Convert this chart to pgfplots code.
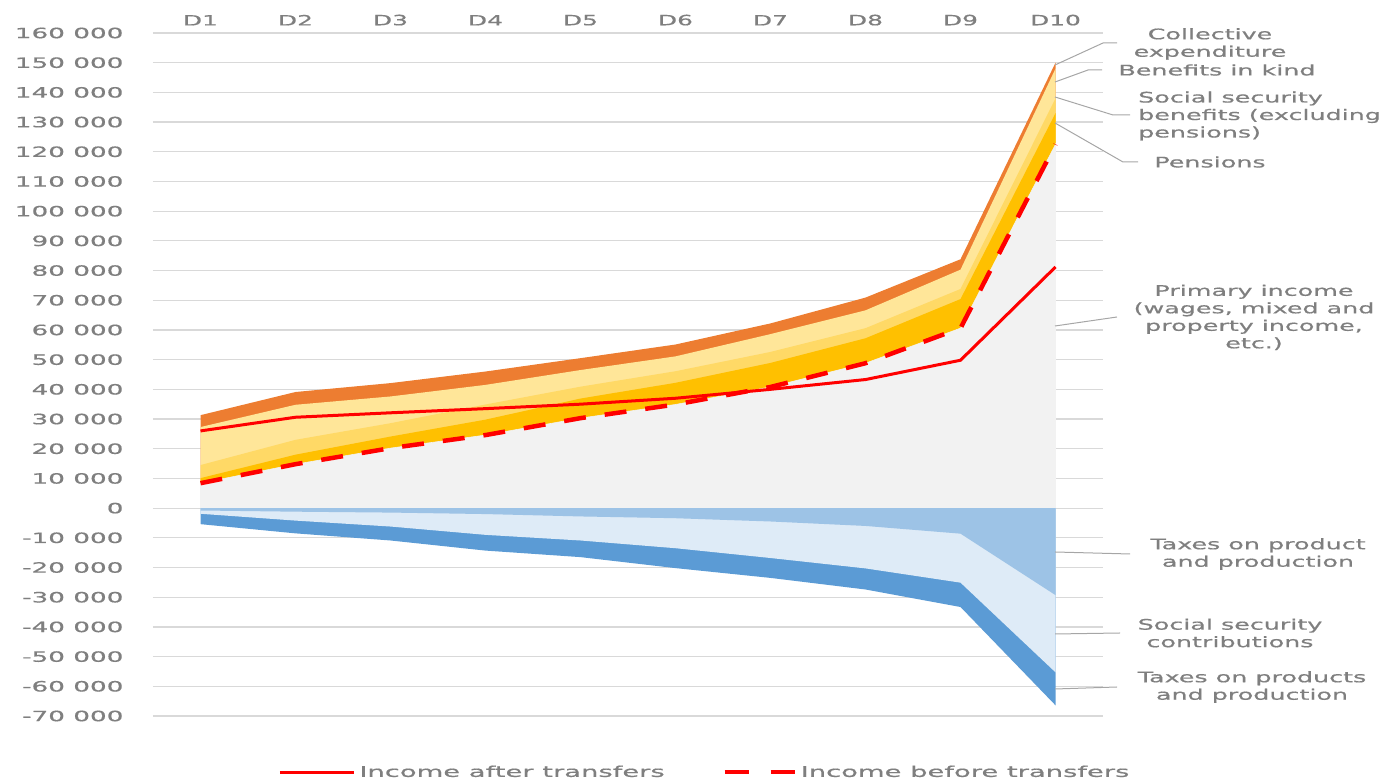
\documentclass[border=0pt]{standalone}
\usepackage{fontspec}
\setmainfont{DejaVu Sans}[FakeStretch=1.75, FakeBold=0.6]
\newfontfamily\tickfont{DejaVu Sans}[FakeStretch=1.85, FakeBold=0.6]
\usepackage{pgfplots}
\pgfplotsset{compat=1.18}
\usepackage{pgfplotstable}

\definecolor{txtgray}{HTML}{7F7F7F}
\definecolor{gridgray}{HTML}{D9D9D9}
\definecolor{leadgray}{HTML}{A6A6A6}
\definecolor{cPrim}{HTML}{F2F2F2}
\definecolor{cPens}{HTML}{FFC000}
\definecolor{cSsb}{HTML}{FFD966}
\definecolor{cKind}{HTML}{FFE699}
\definecolor{cColl}{HTML}{ED7D31}
\definecolor{cTprod}{HTML}{9DC3E6}
\definecolor{cSsc}{HTML}{DEEBF7}
\definecolor{cTprods}{HTML}{5B9BD5}

\pgfplotstableread{
x  prim   pens  ssb  kind  coll tprod  ssc    tprods after
1  8400   1700  4400 12800 4000 -800   -1100  -3500  26000
2  14800  3200  5000 11800 4300 -1200  -3000  -4300  30600
3  20200  3900  4500 9000  4500 -1500  -4700  -4700  32100
4  24600  5200  5100 6600  4500 -2000  -7000  -5300  33500
5  30300  6600  4000 5600  4000 -2800  -8100  -5600  35000
6  34900  7300  3900 5000  4000 -3400  -10100 -6700  37000
7  40800  8100  3700 6000  3600 -4500  -12300 -6700  40000
8  48800  8400  3400 6000  4300 -6000  -14300 -7100  43300
9  60600  9800  3400 6500  3500 -8600  -16500 -8200  49800
10 122500 10500 5000 10000 2000 -29300 -26000 -11100 81200
}\data

\def\pxfont{\fontsize{14.2}{17.5}\selectfont}

\begin{document}
\begin{tikzpicture}
\useasboundingbox (0,0) rectangle (1384pt,778pt);
\begin{axis}[
  at={(153pt,62pt)}, anchor=south west,
  scale only axis, width=950pt, height=683pt,
  xmin=0.5, xmax=10.5, ymin=-70000, ymax=160000,
  scaled y ticks=false,
  xtick={1,...,10}, xticklabels={D1,D2,D3,D4,D5,D6,D7,D8,D9,D10},
  xticklabel pos=upper,
  ytick={-70000,-60000,-50000,-40000,-30000,-20000,-10000,0,10000,20000,30000,40000,50000,60000,70000,80000,90000,100000,110000,120000,130000,140000,150000,160000},
  yticklabels={-70 000,-60 000,-50 000,-40 000,-30 000,-20 000,-10 000,0,10 000,20 000,30 000,40 000,50 000,60 000,70 000,80 000,90 000,100 000,110 000,120 000,130 000,140 000,150 000,160 000},
  ymajorgrids, grid style={color=gridgray, line width=1.2pt},
  axis line style={draw=none}, major tick length=0pt,
  tick label style={font=\pxfont, text=txtgray},
  yticklabel style={font=\tickfont\pxfont, anchor=east, xshift=-26pt},
  xticklabel style={anchor=south, yshift=4pt},
  legend columns=2,
  legend style={at={(0.582,-0.082)}, anchor=center, draw=none, fill=none,
    font=\tickfont\fontsize{14.8}{18}\selectfont, text=txtgray,
    nodes={inner sep=4pt},
    /tikz/every even column/.append style={column sep=54pt}},
]
% positive stack (painter's order)
\addplot[fill=cColl, draw=none, forget plot] table[x=x, y expr=\thisrow{prim}+\thisrow{pens}+\thisrow{ssb}+\thisrow{kind}+\thisrow{coll}] {\data} \closedcycle;
\addplot[fill=cKind, draw=none, forget plot] table[x=x, y expr=\thisrow{prim}+\thisrow{pens}+\thisrow{ssb}+\thisrow{kind}] {\data} \closedcycle;
\addplot[fill=cSsb, draw=none, forget plot] table[x=x, y expr=\thisrow{prim}+\thisrow{pens}+\thisrow{ssb}] {\data} \closedcycle;
\addplot[fill=cPens, draw=none, forget plot] table[x=x, y expr=\thisrow{prim}+\thisrow{pens}] {\data} \closedcycle;
\addplot[fill=cPrim, draw=cPrim, line width=0.6pt, forget plot] table[x=x, y=prim] {\data} \closedcycle;
% negative stack
\addplot[fill=cTprods, draw=none, forget plot] table[x=x, y expr=\thisrow{tprod}+\thisrow{ssc}+\thisrow{tprods}] {\data} \closedcycle;
\addplot[fill=cSsc, draw=none, forget plot] table[x=x, y expr=\thisrow{tprod}+\thisrow{ssc}] {\data} \closedcycle;
\addplot[fill=cTprod, draw=none, forget plot] table[x=x, y=tprod] {\data} \closedcycle;
% lines
\addplot[red, line width=3pt, mark=none,
  legend image code/.code={\draw[red, line width=3pt] (0pt,0pt) -- (74pt,0pt);}]
  table[x=x, y=after] {\data};
\addlegendentry{Income after transfers}
\addplot[red, line width=4.5pt, mark=none, dash pattern=on 22pt off 19pt,
  legend image code/.code={\draw[red, line width=4pt, dash pattern=on 24pt off 22pt] (0pt,0pt) -- (70pt,0pt);}]
  table[x=x, y=prim] {\data};
\addlegendentry{Income before transfers}
\end{axis}

% annotations
\begin{scope}[every node/.style={font=\fontsize{14.5}{17.5}\selectfont, text=txtgray, align=center, inner sep=0pt}]
\node at (1210pt,734pt) {Collective\\expenditure};
\node at (1217pt,708pt) {Benefits in kind};
\node[anchor=west, align=left] at (1138pt,662pt) {Social security\\benefits (excluding\\pensions)};
\node at (1210pt,616pt) {Pensions};
\node at (1254pt,460.5pt) {Primary income\\(wages, mixed and\\property income,\\etc.)};
\node at (1258pt,224pt) {Taxes on product\\and production};
\node at (1230pt,145pt) {Social security\\contributions};
\node at (1252pt,91pt) {Taxes on products\\and production};
\end{scope}
\begin{scope}[leadgray, line width=1pt]
\draw (1055pt,713pt) -- (1103pt,735pt) -- (1117pt,735pt);
\draw (1055pt,696pt) -- (1088pt,708pt) -- (1102pt,708pt);
\draw (1055pt,681pt) -- (1113pt,663pt) -- (1130pt,663pt);
\draw (1055pt,655pt) -- (1123pt,616pt) -- (1138pt,616pt);
\draw (1055pt,452pt) -- (1117pt,461pt);
\draw (1055pt,226pt) -- (1130pt,224pt);
\draw (1055pt,144pt) -- (1120pt,145pt);
\draw (1055pt,89pt) -- (1117pt,91pt);
\end{scope}
\end{tikzpicture}
\end{document}
